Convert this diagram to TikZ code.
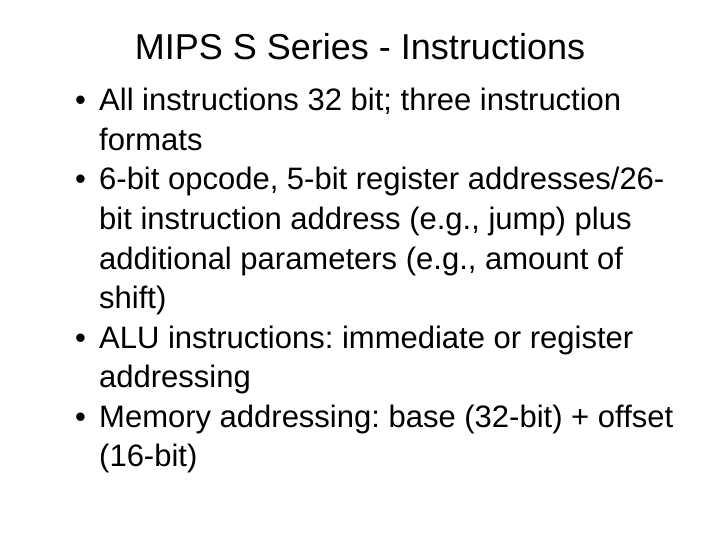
\documentclass[tikz,border=0pt]{standalone}
\usepackage{fontspec}
\setmainfont{Liberation Sans}
\frenchspacing
\begin{document}
\begin{tikzpicture}[x=1pt,y=-1pt,
  ln/.style={anchor=base west,inner sep=0pt,font=\fontsize{31}{31}\selectfont},
  bl/.style={anchor=base west,inner sep=0pt,font=\fontsize{31}{31}\selectfont}]
\useasboundingbox[fill=white] (0,0) rectangle (720,540);
\node[anchor=base,inner sep=0pt,font=\fontsize{36}{36}\selectfont] (title) at (360,60) {MIPS S Series - Instructions};
\node[bl] (b1) at (75,111) {•};
\node[ln] (l1) at (99,111) {All instructions 32 bit; three instruction};
\node[ln] (l2) at (99,150.5) {formats};
\node[bl] (b2) at (75,190) {•};
\node[ln] (l3) at (99,190) {6-bit opcode, 5-bit register addresses/26-};
\node[ln] (l4) at (99,229.5) {bit instruction address (e.g., jump) plus};
\node[ln] (l5) at (99,269) {additional parameters (e.g., amount of};
\node[ln] (l6) at (99,308.5) {shift)};
\node[bl] (b3) at (75,348) {•};
\node[ln] (l7) at (99,348) {ALU instructions: immediate or register};
\node[ln] (l8) at (99,387.5) {addressing};
\node[bl] (b4) at (75,427) {•};
\node[ln] (l9) at (99,427) {Memory addressing: base (32-bit) + offset};
\node[ln] (l10) at (99,466.5) {(16-bit)};
\end{tikzpicture}
\end{document}
